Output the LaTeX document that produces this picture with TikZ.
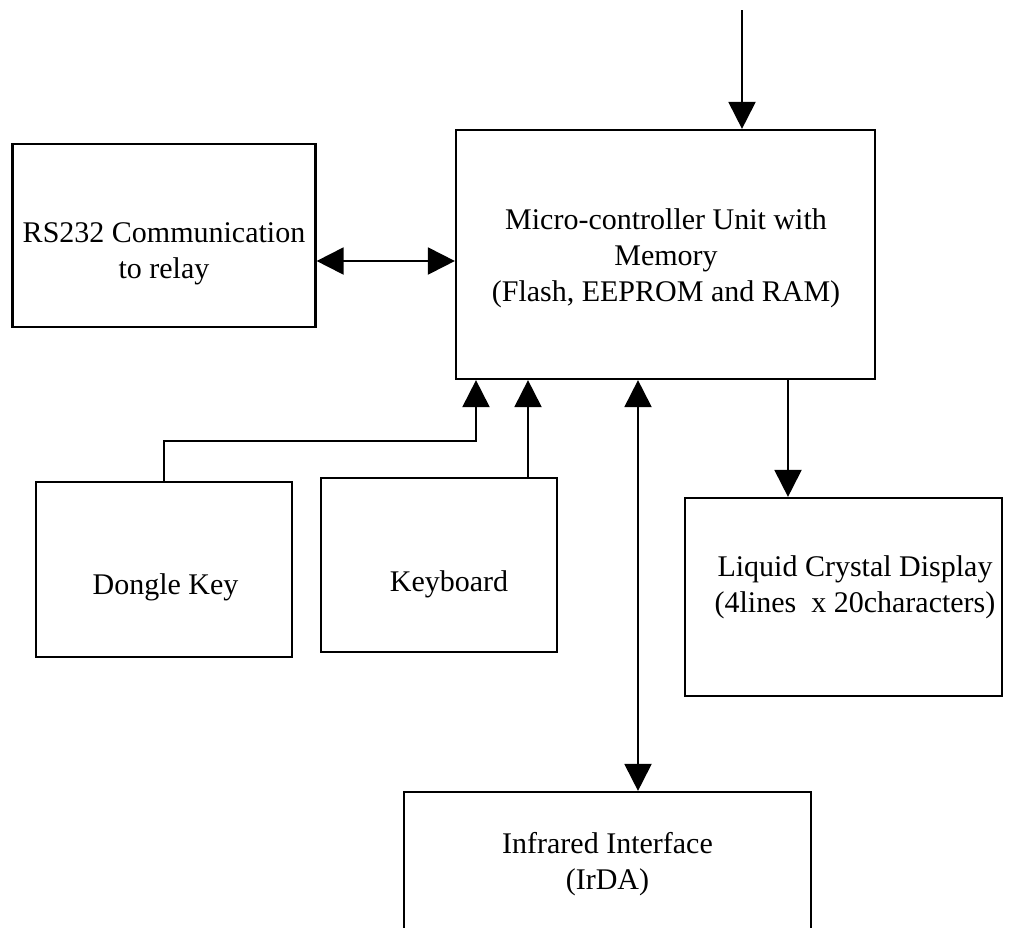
\documentclass[tikz,border=0pt]{standalone}
\usepackage{fontspec}
\setmainfont{Liberation Serif}
\usepackage{tikz}
\usetikzlibrary{arrows.meta}
\tikzset{
	blk/.style={rectangle,draw=black,line width=1.1pt,fill=none,inner sep=0pt},
	lbl/.style={align=center,inner sep=0pt,font=\fontsize{15}{18}\selectfont},
	arr/.style={line width=1pt,-{Triangle[length=13.5pt,width=13.5pt]}},
	darr/.style={line width=1pt,{Triangle[length=13.5pt,width=13.5pt]}-{Triangle[length=13.5pt,width=13.5pt]}}
}

\begin{document}
\begin{tikzpicture}[x=0.5pt,y=-0.5pt]
		\clip (0,0) rectangle (1017,927);
		\useasboundingbox (0,0) rectangle (1017,927);
		
		% blocks
		\node[blk,minimum width=151.5pt,minimum height=91.5pt] (rs) at (164,235.5) {};
		\node[blk,minimum width=209.5pt,minimum height=124.5pt] (mcu) at (665.5,254.5) {};
		\node[blk,minimum width=128pt,minimum height=87.5pt] (dongle) at (164,569.5) {};
		\node[blk,minimum width=118pt,minimum height=87pt] (kbd) at (439,565) {};
		\node[blk,minimum width=158.5pt,minimum height=99pt] (lcd) at (843.5,597) {};
		\node[blk,minimum width=203.5pt,minimum height=104pt] (irda) at (607.5,896) {};
		
		% texts
		\node[lbl] (rstxt) at (164,253.5) {RS232 Communication\\to relay};
		\node[lbl] (mcutxt) at (666,258) {Micro-controller Unit with\\Memory\\(Flash, EEPROM and RAM)};
		\node[lbl] (dongletxt) at (165.5,587) {Dongle Key};
		\node[lbl] (kbdtxt) at (449,584) {Keyboard};
		\node[lbl] (lcdtxt) at (855,587.5) {Liquid Crystal Display\\(4lines\ \ x 20characters)};
		\node[lbl] (irdatxt) at (607.5,864.5) {Infrared Interface\\(IrDA)};
		
		% connectors
		\coordinate (in) at (742,10);
		\draw[arr] (in) -- (in |- mcu.north);
		
		\draw[darr] ([yshift=-12.75pt]rs.east) -- ([yshift=-12.75pt]rs.east -| mcu.west);
		
		\draw[arr] (dongle.north) -- ++(0,-40) -| ([xshift=-94.75pt]mcu.south);
		
		\coordinate (kin) at ([xshift=-68.75pt]mcu.south);
		\draw[arr] (kin |- kbd.north) -- (kin);
		
		\coordinate (iin) at ([xshift=-13.75pt]mcu.south);
		\draw[darr] (iin) -- (iin |- irda.north);
		
		\coordinate (lout) at ([xshift=61.25pt]mcu.south);
		\draw[arr] (lout) -- (lout |- lcd.north);
		
\end{tikzpicture}
\end{document}
